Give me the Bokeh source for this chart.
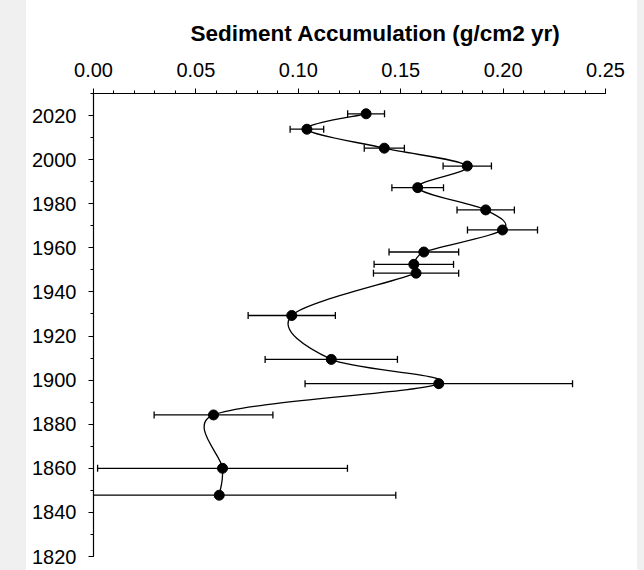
import math
from bokeh.plotting import figure
from bokeh.models import (Range1d, FixedTicker, PrintfTickFormatter,
                          GlobalInlineStyleSheet, ColumnDataSource)
from bokeh.embed import file_html
from bokeh.resources import INLINE

# ---- data ----
years = [2020.8, 2013.8, 2005.2, 1997.1, 1987.3, 1977.2, 1968.1, 1958.1,
         1952.5, 1948.5, 1929.3, 1909.4, 1898.4, 1884.2, 1860.0, 1847.8]
accum = [0.1331, 0.1042, 0.1420, 0.1825, 0.1583, 0.1915, 0.1997, 0.1613,
         0.1564, 0.1575, 0.0968, 0.1161, 0.1686, 0.0586, 0.0630, 0.0614]
err = [0.0090, 0.0082, 0.0098, 0.0118, 0.0126, 0.0140, 0.0171, 0.0170,
       0.0194, 0.0208, 0.0213, 0.0323, 0.0653, 0.0290, 0.0610, 0.0862]

x_ticks = [0.00, 0.05, 0.10, 0.15, 0.20, 0.25]
x_minor = [i / 100 for i in range(0, 26)]
y_ticks = [1820, 1840, 1860, 1880, 1900, 1920, 1940, 1960, 1980, 2000, 2020]
y_minor = [1820 + 10 * i for i in range(0, 22)]

FONT = "Liberation Sans"
W, H = 644, 570
BL, BR, BT, BB = 93, 39, 93, 14
X0, X1, Y0, Y1 = 0, 0.25, 1820, 2030

p = figure(width=W, height=H, output_backend="svg", toolbar_location=None,
           x_range=Range1d(X0, X1), y_range=Range1d(Y0, Y1),
           x_axis_location="above",
           min_border_left=BL, min_border_right=BR, min_border_top=BT,
           min_border_bottom=BB)
p.stylesheets = [GlobalInlineStyleSheet(css=(
    "body { background: linear-gradient(to right, #f0f0f0 26px, #ffffff 26px, "
    "#ffffff 637px, #f0f0f0 637px); }"))]
p.border_fill_color = None
p.background_fill_color = "white"
p.outline_line_color = None
p.grid.visible = False

p.title.text = "Sediment Accumulation (g/cm2 yr)"
p.title.align = "left"
p.title.offset = 97
p.title.standoff = 27
p.title.text_font = FONT
p.title.text_font_size = "22.5px"
p.title.text_font_style = "bold"
p.title.text_color = "black"

xa = p.xaxis[0]
xa.ticker = FixedTicker(ticks=x_ticks, minor_ticks=x_minor)
xa.formatter = PrintfTickFormatter(format="%.2f")
ya = p.yaxis[0]
ya.ticker = FixedTicker(ticks=y_ticks, minor_ticks=y_minor)
for ax in (xa, ya):
    ax.major_label_text_font = FONT
    ax.major_label_text_font_size = "20px"
    ax.major_label_text_color = "black"
    ax.axis_line_color = "black"
    ax.axis_line_width = 1.2
    ax.major_tick_line_color = "black"
    ax.minor_tick_line_color = "black"
    ax.major_tick_in = 0
    ax.major_tick_out = 5
    ax.minor_tick_in = 0
    ax.minor_tick_out = 3
    ax.major_label_standoff = 12

# ---- error bars ----
lo = [a - e for a, e in zip(accum, err)]
hi = [a + e for a, e in zip(accum, err)]
src = ColumnDataSource(dict(y=years, x=accum, lo=lo, hi=hi))
p.segment(x0="lo", x1="hi", y0="y", y1="y", source=src,
          line_color="black", line_width=1.3)
p.scatter(x="lo", y="y", source=src, marker="dash", angle=1.5708, size=7,
          line_color="black", line_width=1.3)
p.scatter(x="hi", y="y", source=src, marker="dash", angle=1.5708, size=7,
          line_color="black", line_width=1.3)

# ---- smoothed connecting line (spreadsheet-style smoothing as Bezier) ----
# pixel scale of each axis, used only to limit control-point lengths
SX = (W - BL - BR) / (X1 - X0)
SY = (H - BT - BB) / (Y1 - Y0)
n = len(years)


def pdist(i, j):
    return math.hypot((accum[i] - accum[j]) * SX, (years[i] - years[j]) * SY)


cx0, cy0, cx1, cy1 = [], [], [], []
for i in range(n - 1):
    seg = pdist(i, i + 1)
    # outgoing control at point i
    a, b = max(i - 1, 0), i + 1
    vx, vy = (accum[b] - accum[a]) / 6, (years[b] - years[a]) / 6
    L = math.hypot(vx * SX, vy * SY)
    f = min(1.0, (seg / 2) / L) if L > 0 else 1.0
    cx0.append(accum[i] + vx * f); cy0.append(years[i] + vy * f)
    # incoming control at point i+1
    a, b = i, min(i + 2, n - 1)
    vx, vy = (accum[b] - accum[a]) / 6, (years[b] - years[a]) / 6
    L = math.hypot(vx * SX, vy * SY)
    f = min(1.0, (seg / 2) / L) if L > 0 else 1.0
    cx1.append(accum[i + 1] - vx * f); cy1.append(years[i + 1] - vy * f)

bez = dict(x0=accum[:-1], y0=years[:-1], x1=accum[1:], y1=years[1:],
           cx0=cx0, cy0=cy0, cx1=cx1, cy1=cy1)
p.bezier(x0="x0", y0="y0", x1="x1", y1="y1", cx0="cx0", cy0="cy0",
         cx1="cx1", cy1="cy1", source=ColumnDataSource(bez),
         line_color="black", line_width=1.3)

p.scatter(x="x", y="y", source=src, size=10, fill_color="black",
          line_color="black")

open("out.html", "w").write(file_html(p, INLINE))
